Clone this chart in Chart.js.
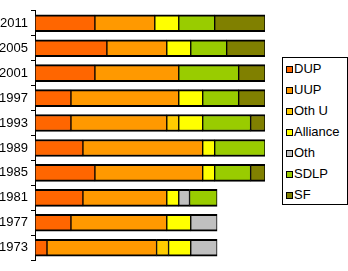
<!DOCTYPE html>
<html>
<head>
    <title>Election results</title>
    <script src="https://cdn.jsdelivr.net/npm/chart.js"></script>
    <style>
        body { margin: 0; background: #fff; }
        #wrap { position: relative; width: 348px; height: 271px; }
        #legend {
            position: absolute; left: 282px; top: 57px; width: 64px; height: 146px;
            border: 1px solid #000; background: #fff;
            font: 13px "Liberation Sans", Arial, sans-serif; color: #000;
        }
        #legend div { position: relative; height: 21px; line-height: 21px; }
        #legend span.box {
            position: absolute; left: 3px; top: 8px; width: 5px; height: 5px;
            border: 1px solid #000;
        }
        #legend span.txt { position: absolute; left: 11px; top: 0; white-space: nowrap; }
    </style>
</head>
<body>
    <div id="wrap">
        <canvas id="resultsChart" width="348" height="271"></canvas>
        <div id="legend"></div>
    </div>

    <script>
        // Years, top to bottom
        const years = ['2011', '2005', '2001', '1997', '1993', '1989', '1985', '1981', '1977', '1973'];
        const parties = ['DUP', 'UUP', 'Oth U', 'Alliance', 'Oth', 'SDLP', 'SF'];
        const colors = ['#FF6600', '#FF9900', '#FFCC00', '#FFFF00', '#C0C0C0', '#99CC00', '#808000'];

        // Values per party, same order as years (0 = not shown)
        const dup      = [5, 6, 5, 3, 3, 4, 5, 4, 3, 1];
        const uup      = [5, 5, 7, 9, 8, 10, 9, 7, 8, 9.15];
        const othU     = [0, 0, 0, 0, 1, 0, 0, 0, 0, 1];
        const alliance = [2, 2, 0, 2, 2, 1, 1, 1, 2, 1.85];
        const oth      = [0, 0, 0, 0, 0, 0, 0, 0.9, 2.2, 2.2];
        const sdlp     = [3, 3, 5, 3, 4, 4.2, 3, 2.3, 0, 0];
        const sf       = [4.2, 3.2, 2.2, 2.2, 1.2, 0, 1.2, 0, 0, 0];

        const axisMax = 19.2;

        const series = [dup, uup, othU, alliance, oth, sdlp, sf];

        const datasets = parties.map((name, i) => {
            return {
                label: name,
                data: series[i].map(v => v === 0 ? null : v),
                backgroundColor: colors[i],
                borderColor: '#000',
                borderWidth: { top: 2, bottom: 2, left: 1, right: 1 },
                borderSkipped: false,
                barThickness: 17
            };
        });

        const ctx = document.getElementById('resultsChart').getContext('2d');
        const chart = new Chart(ctx, {
            type: 'bar',
            data: {
                labels: years,
                datasets: datasets
            },
            options: {
                indexAxis: 'y',
                responsive: false,
                animation: false,
                layout: { padding: { top: 1, bottom: 1, left: 0, right: 83 } },
                plugins: {
                    legend: { display: false },
                    tooltip: { enabled: false }
                },
                scales: {
                    x: {
                        display: false,
                        stacked: true,
                        min: 0,
                        max: axisMax
                    },
                    y: {
                        stacked: true,
                        afterFit: function(scale) { scale.width = 35; },
                        border: { display: true, color: '#000', width: 1 },
                        grid: {
                            display: true,
                            drawOnChartArea: false,
                            drawTicks: true,
                            tickLength: 4,
                            color: '#000'
                        },
                        ticks: {
                            color: '#000',
                            padding: 3,
                            font: { family: 'Liberation Sans', size: 13 }
                        }
                    }
                }
            }
        });

        // Legend box on the right
        const legend = document.getElementById('legend');
        parties.forEach((name, i) => {
            const row = document.createElement('div');
            row.innerHTML = '<span class="box" style="background:' + colors[i] + '"></span>' +
                '<span class="txt">' + name + '</span>';
            legend.appendChild(row);
        });
    </script>
</body>
</html>
